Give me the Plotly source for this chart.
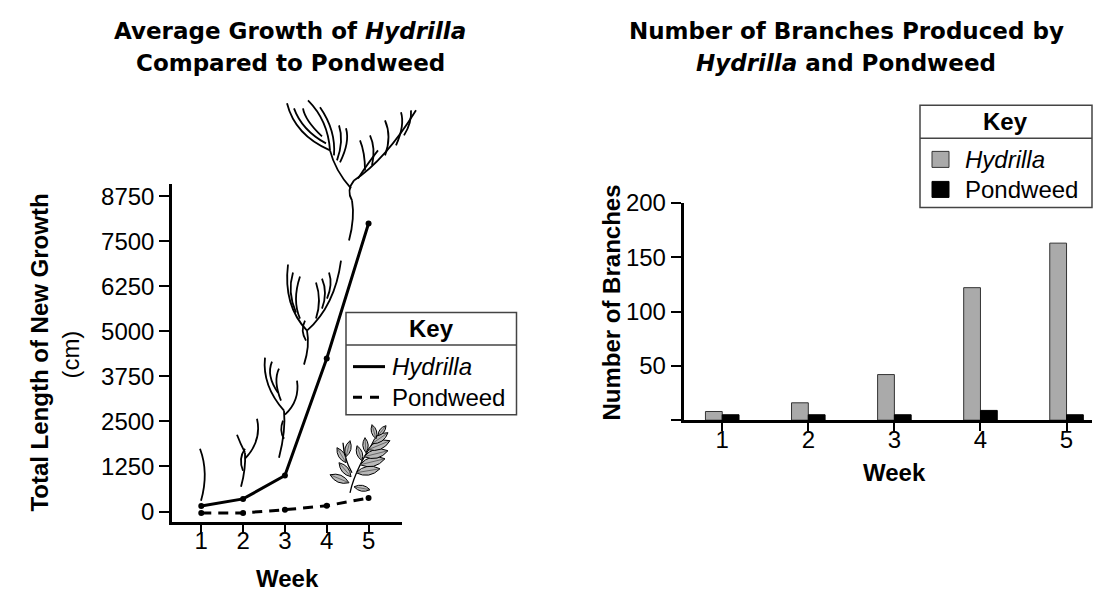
import plotly.graph_objects as go

# the page has an 8px body margin; keep the figure inside the 1116x604 window
PAGE = 8
W, H = 1116 - 2 * PAGE, 604 - 2 * PAGE
# vertical correction measured from the previous screenshots
Y_SHIFT, Y_SCALE = 14, 0.97

# data
weeks = [1, 2, 3, 4, 5]
hydrilla_growth = [150, 350, 1000, 4250, 8000]
pondweed_growth = [-40, -40, 50, 160, 375]
hydrilla_branches = [8, 16, 42, 122, 163]
pondweed_branches = [5, 5, 5, 9, 5]
growth_ticks = [0, 1250, 2500, 3750, 5000, 6250, 7500, 8750]
branch_ticks = [0, 50, 100, 150, 200]
branch_ticktext = ["", "50", "100", "150", "200"]

FONT = "Liberation Sans, Arial, sans-serif"
TITLE_FONT = "DejaVu Sans, sans-serif"
GRAY = "#aaaaaa"


def fx(x):
    return (x - PAGE) / W


def fy(y):
    yp = (y - Y_SHIFT) / Y_SCALE
    return 1 - (yp - PAGE) / H


def pt(x, y):
    return f"{fx(x):.5f},{fy(y):.5f}"


def curve(*pts):
    # M p0 Q p1 p2 (Q p3 p4 ...)
    s = "M " + pt(*pts[0])
    rest = pts[1:]
    for i in range(0, len(rest) - 1, 2):
        s += " Q " + pt(*rest[i]) + " " + pt(*rest[i + 1])
    return s


fig = go.Figure()

# left chart: line graph
fig.add_trace(go.Scatter(
    x=weeks, y=hydrilla_growth, mode="lines+markers", name="Hydrilla",
    line=dict(color="black", width=3), marker=dict(color="black", size=6),
    xaxis="x", yaxis="y", showlegend=False,
))
fig.add_trace(go.Scatter(
    x=weeks, y=pondweed_growth, mode="lines+markers", name="Pondweed",
    line=dict(color="black", width=3, dash="10px,7px"),
    marker=dict(color="black", size=6),
    xaxis="x", yaxis="y", showlegend=False,
))

# right chart: grouped bars
fig.add_trace(go.Bar(
    x=weeks, y=hydrilla_branches, name="Hydrilla",
    marker=dict(color=GRAY, line=dict(color="#333333", width=1)),
    xaxis="x2", yaxis="y2", showlegend=False,
))
fig.add_trace(go.Bar(
    x=weeks, y=pondweed_branches, name="Pondweed",
    marker=dict(color="black", line=dict(color="black", width=1)),
    xaxis="x2", yaxis="y2", showlegend=False,
))

axis_common = dict(
    showline=True, linecolor="black", linewidth=2.5, ticks="outside",
    ticklen=10, tickwidth=1.5, tickcolor="black", showgrid=False,
    zeroline=False, tickfont=dict(family=FONT, size=24, color="black"),
    fixedrange=True,
)

shapes = []
annotations = []


def label(text, x, y, size=24, angle=0, anchor="center", family=FONT):
    annotations.append(dict(
        text=text, x=fx(x), y=fy(y), xref="paper", yref="paper",
        showarrow=False, textangle=angle, xanchor=anchor, yanchor="middle",
        font=dict(family=family, size=size, color="black"),
    ))


# titles
label("<b>Average Growth of <i>Hydrilla</i></b>", 290, 31, 23, family=TITLE_FONT)
label("<b>Compared to Pondweed</b>", 290, 63, 23, family=TITLE_FONT)
label("<b>Number of Branches Produced by</b>", 846, 31, 23, family=TITLE_FONT)
label("<b><i>Hydrilla</i> and Pondweed</b>", 846, 63, 23, family=TITLE_FONT)

# axis titles
label("<b>Total Length of New Growth</b>", 40, 352, angle=-90)
label("(cm)", 71, 354, angle=-90)
label("<b>Week</b>", 287, 578)
label("<b>Number of Branches</b>", 612, 302, angle=-90)
label("<b>Week</b>", 894, 472)

# key for the line chart
shapes.append(dict(type="rect", xref="paper", yref="paper",
                   x0=fx(346), x1=fx(516.5), y0=fy(312), y1=fy(414),
                   line=dict(color="#444444", width=1.5)))
shapes.append(dict(type="line", xref="paper", yref="paper",
                   x0=fx(346), x1=fx(516.5), y0=fy(344.5), y1=fy(344.5),
                   line=dict(color="#444444", width=1.5)))
label("<b>Key</b>", 431, 328)
shapes.append(dict(type="line", xref="paper", yref="paper",
                   x0=fx(353), x1=fx(385), y0=fy(366), y1=fy(366),
                   line=dict(color="black", width=3)))
shapes.append(dict(type="line", xref="paper", yref="paper",
                   x0=fx(353), x1=fx(385), y0=fy(396.5), y1=fy(396.5),
                   line=dict(color="black", width=3, dash="9px,8px")))
label("<i>Hydrilla</i>", 390, 366, anchor="left")
label("Pondweed", 390, 396.5, anchor="left")

# key for the bar chart
shapes.append(dict(type="rect", xref="paper", yref="paper",
                   x0=fx(920), x1=fx(1092), y0=fy(105), y1=fy(207),
                   line=dict(color="#444444", width=1.5)))
shapes.append(dict(type="line", xref="paper", yref="paper",
                   x0=fx(920), x1=fx(1092), y0=fy(138), y1=fy(138),
                   line=dict(color="#444444", width=1.5)))
label("<b>Key</b>", 1005, 121)
shapes.append(dict(type="rect", xref="paper", yref="paper",
                   x0=fx(932), x1=fx(949), y0=fy(151), y1=fy(167),
                   fillcolor=GRAY, line=dict(color="#333333", width=1)))
shapes.append(dict(type="rect", xref="paper", yref="paper",
                   x0=fx(932), x1=fx(949), y0=fy(181), y1=fy(197),
                   fillcolor="black", line=dict(color="black", width=1)))
label("<i>Hydrilla</i>", 963, 159, anchor="left")
label("Pondweed", 963, 189, anchor="left")

# hand-drawn style plant sketches (decoration)
stems = [
    # week 1 sprout
    curve((200, 448), (209, 472), (201, 500)),
    # week 2
    curve((241, 486), (246, 468), (245, 452)),
    curve((245, 452), (240, 442), (237, 434)),
    curve((245, 458), (262, 440), (257, 418)),
    curve((243, 470), (238, 458), (245, 448)),
    # week 3
    curve((279, 457), (286, 430), (284, 410)),
    curve((284, 410), (262, 385), (265, 357)),
    curve((278, 392), (266, 375), (272, 361)),
    curve((281, 400), (273, 380), (279, 368)),
    curve((285, 414), (300, 400), (297, 380)),
    curve((283, 420), (279, 430), (284, 438)),
    # week 3.5 plant
    curve((304, 364), (310, 345), (307, 330)),
    curve((307, 330), (283, 305), (288, 264)),
    curve((296, 312), (287, 292), (293, 272)),
    curve((300, 318), (292, 300), (300, 276)),
    curve((307, 330), (335, 305), (341, 260)),
    curve((316, 318), (322, 300), (316, 282)),
    curve((322, 308), (328, 292), (322, 278)),
    curve((327, 298), (333, 284), (329, 272)),
    curve((305, 320), (300, 330), (306, 340)),
    # top plant
    curve((349, 240), (355, 218), (352, 200)),
    curve((352, 200), (346, 190), (354, 180)),
    curve((351, 188), (335, 170), (330, 150)),
    curve((330, 150), (295, 135), (287, 103)),
    curve((326, 143), (302, 130), (294, 108)),
    curve((322, 136), (305, 120), (303, 108)),
    curve((330, 150), (328, 120), (308, 100)),
    curve((334, 155), (336, 130), (320, 107)),
    curve((337, 160), (344, 140), (339, 125)),
    curve((340, 162), (350, 142), (346, 128)),
    curve((354, 180), (385, 160), (416, 110)),
    curve((365, 170), (365, 152), (360, 140)),
    curve((372, 165), (376, 148), (370, 135)),
    curve((385, 155), (392, 136), (385, 120)),
    curve((396, 145), (405, 125), (401, 112)),
    curve((404, 135), (412, 122), (411, 110)),
    curve((358, 178), (370, 160), (378, 150)),
]
for s in stems:
    shapes.append(dict(type="path", xref="paper", yref="paper", path=s,
                       line=dict(color="black", width=1.8)))

# pondweed sprig
for s in [curve((350, 492), (356, 465), (380, 432)),
          curve((352, 472), (344, 458), (343, 442))]:
    shapes.append(dict(type="path", xref="paper", yref="paper", path=s,
                       line=dict(color="black", width=1.3)))
leaves = [
    (349, 482, 330, 474), (351, 476, 339, 462), (346, 462, 337, 447),
    (346, 456, 350, 440), (356, 472, 380, 468), (360, 464, 385, 458),
    (364, 456, 388, 450), (368, 449, 390, 440), (372, 443, 388, 432),
    (376, 438, 372, 424), (378, 435, 386, 425), (362, 460, 357, 445),
    (366, 452, 365, 437), (354, 486, 370, 489),
]
for x0, y0, x1, y1 in leaves:
    mx, my = (x0 + x1) / 2, (y0 + y1) / 2
    dx, dy = (x1 - x0) / 2, (y1 - y0) / 2
    nx, ny = -dy * 0.36, dx * 0.36
    path = ("M " + pt(x0, y0) + " Q " + pt(mx + nx * 2, my + ny * 2) + " " + pt(x1, y1)
            + " Q " + pt(mx - nx * 2, my - ny * 2) + " " + pt(x0, y0) + " Z")
    shapes.append(dict(type="path", xref="paper", yref="paper", path=path,
                       fillcolor="#b8b8b8", line=dict(color="black", width=1)))
    shapes.append(dict(type="line", xref="paper", yref="paper",
                       x0=fx(x0), y0=fy(y0), x1=fx(x1), y1=fy(y1),
                       line=dict(color="#333333", width=0.6)))

fig.update_layout(
    width=W, height=H, margin=dict(l=0, r=0, t=0, b=0),
    paper_bgcolor="white", plot_bgcolor="white",
    barmode="group", bargap=0.61, bargroupgap=0,
    xaxis=dict(domain=[fx(172), fx(402)], range=[0.3, 5.8], anchor="y",
               tickvals=weeks, **axis_common),
    yaxis=dict(domain=[fy(521), fy(184)], range=[-286, 9084], anchor="x",
               tickvals=growth_ticks, **axis_common),
    xaxis2=dict(domain=[fx(683.5), fx(1091.5)], range=[0.55, 5.29],
                anchor="y2", tickvals=weeks, **axis_common),
    yaxis2=dict(domain=[fy(419.5), fy(202.5)], range=[0, 200], anchor="x2",
                tickvals=branch_ticks, ticktext=branch_ticktext,
                **axis_common),
    shapes=shapes, annotations=annotations,
)
fig.update_xaxes(ticklen=8, ticklabelstandoff=-12)

fig.write_html("out.html")
